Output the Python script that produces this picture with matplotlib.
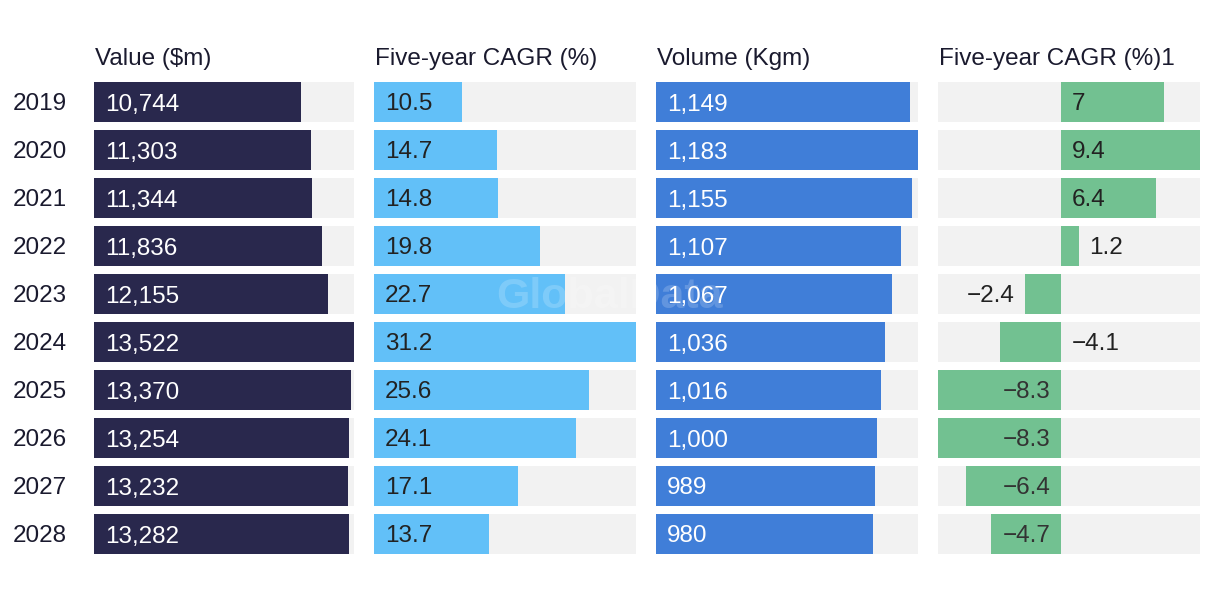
import matplotlib
matplotlib.use("Agg")
import matplotlib.pyplot as plt

plt.rcParams['font.family'] = ['Liberation Sans', 'DejaVu Sans']

years = ["2019", "2020", "2021", "2022", "2023", "2024", "2025", "2026", "2027", "2028"]
value_m = [10744, 11303, 11344, 11836, 12155, 13522, 13370, 13254, 13232, 13282]
value_cagr = [10.5, 14.7, 14.8, 19.8, 22.7, 31.2, 25.6, 24.1, 17.1, 13.7]
volume_kgm = [1149, 1183, 1155, 1107, 1067, 1036, 1016, 1000, 989, 980]
volume_cagr = [7, 9.4, 6.4, 1.2, -2.4, -4.1, -8.3, -8.3, -6.4, -4.7]
headers = ["Value ($m)", "Five-year CAGR (%)", "Volume (Kgm)", "Five-year CAGR (%)1"]

# label placement style for the last panel (as drawn in the reference)
cagr2_label_mode = ["in", "in", "in", "outright", "outleft", "right", "in", "in", "in", "in"]

W, H = 1220, 596
fig = plt.figure(figsize=(W / 100, H / 100), dpi=100)
fig.patch.set_facecolor("white")

panel_px = [(94, 354), (374, 636), (656, 918), (938, 1200)]
top_px, bot_px = 82, 554
colors = ["#29284d", "#62c0f8", "#407ed8", "#72c191"]
txt_colors = ["white", "#222222", "white", "#222222"]
bg = "#f2f2f2"
fs = 17.5
row_h = 40 / 48
VA = "center_baseline"

def fmt_int(v):
    return f"{v:,}"

def fmt_dec(v):
    s = f"{v:g}"
    return s.replace("-", "\u2212")

datasets = [value_m, value_cagr, volume_kgm, volume_cagr]
formatters = [fmt_int, fmt_dec, fmt_int, fmt_dec]

n = len(years)
ypos = list(range(n))
for k, ((x0, x1), data) in enumerate(zip(panel_px, datasets)):
    ax = fig.add_axes([x0 / W, 1 - bot_px / H, (x1 - x0) / W, (bot_px - top_px) / H])
    ax.set_ylim(n - 1 + row_h / 2, -row_h / 2)
    if k < 3:
        lo, hi = 0, max(data)
    else:
        lo, hi = min(data), max(data)
    ax.set_xlim(lo, hi)
    ax.barh(ypos, [hi - lo] * n, left=lo, height=row_h, color=bg, zorder=1)
    ax.barh(ypos, data, left=0, height=row_h, color=colors[k], zorder=2)
    pad = (hi - lo) * 11 / (x1 - x0)
    for i, v in enumerate(data):
        label = formatters[k](v)
        if k < 3:
            ax.text(pad, i, label, va=VA, ha="left", fontsize=fs,
                    color=txt_colors[k], zorder=3)
        else:
            mode = cagr2_label_mode[i]
            if mode == "outright":
                ax.text(v + pad, i, label, va=VA, ha="left", fontsize=fs,
                        color="#222222", zorder=3)
            elif v >= 0 or mode == "right":
                ax.text(pad, i, label, va=VA, ha="left", fontsize=fs,
                        color="#222222", zorder=3)
            elif mode == "outleft":
                ax.text(v - pad, i, label, va=VA, ha="right", fontsize=fs,
                        color="#222222", zorder=3)
            else:
                ax.text(-pad * 0.9, i, label, va=VA, ha="right", fontsize=fs,
                        color="#333333", zorder=3)
    ax.axis("off")
    fig.text(x0 / W + 1 / W, 1 - 57 / H, headers[k], ha="left", va=VA,
             fontsize=fs, color="#1a1a2e")

for i, y in enumerate(years):
    fig.text(13 / W, 1 - (102 + 48 * i) / H, y, ha="left", va=VA,
             fontsize=fs, color="#1a1a2e")

fig.text(610 / W, 1 - 297 / H, "GlobalData", ha="center", va="center",
         fontsize=31, fontweight="bold", color="white", alpha=0.18, zorder=10)

fig.savefig("out.png", dpi=100, facecolor="white")
